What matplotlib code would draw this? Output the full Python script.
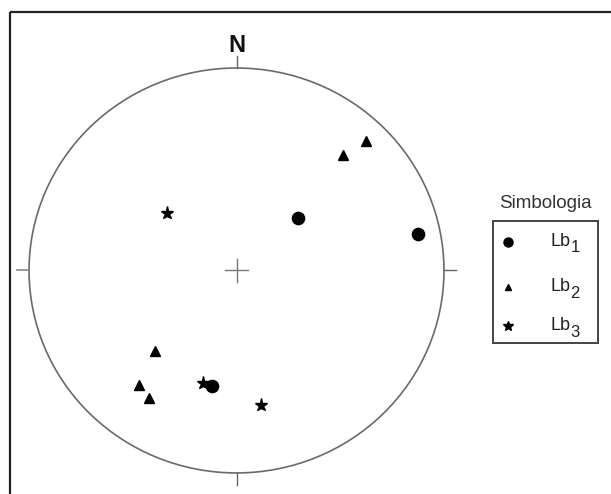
import matplotlib
matplotlib.use("Agg")
import matplotlib.pyplot as plt
from matplotlib.patches import Ellipse
from matplotlib.lines import Line2D
import matplotlib.transforms as mtransforms

plt.rcParams['font.family'] = ['Liberation Sans', 'DejaVu Sans']

# posiciones en la red (unidades del radio, centro = 0,0)
lb1_x = [0.296, 0.875, -0.118]
lb1_y = [0.259, 0.180, -0.570]
lb2_x = [0.624, 0.513, -0.393, -0.470, -0.422]
lb2_y = [0.640, 0.570, -0.398, -0.565, -0.630]
lb3_x = [-0.335, -0.161, 0.118]
lb3_y = [0.284, -0.556, -0.664]

series = [
    ('Lb', '1', lb1_x, lb1_y, 'o', 8.8, 6.5),
    ('Lb', '2', lb2_x, lb2_y, '^', 7.5, 5.0),
    ('Lb', '3', lb3_x, lb3_y, '*', 9.5, 7.0),
]
legend_title = 'Simbologia'

fig = plt.figure(figsize=(6.11, 4.94), dpi=100)
ax = fig.add_axes([0, 0, 1, 1])
ax.set_xlim(-1.140, 1.805)
ax.set_ylim(-1.104, 1.336)
ax.axis('off')

# marco (solo visible arriba e izquierda)
fig.add_artist(Line2D([10 / 611, 10 / 611], [0, 1 - 12 / 494], transform=fig.transFigure,
                      color='#222222', lw=1.6, solid_capstyle='butt'))
fig.add_artist(Line2D([10 / 611, 1], [1 - 12 / 494, 1 - 12 / 494], transform=fig.transFigure,
                      color='#222222', lw=1.6, solid_capstyle='butt'))

# circulo primitivo
ax.add_patch(Ellipse((0, 0), 2, 2, fill=False, edgecolor='#6a6a6a', lw=1.2))

# marcas cardinales
t = 0.058
ax.plot([-1 - t, -1], [0, 0], color='#888888', lw=1.2)
ax.plot([1, 1 + t], [0, 0], color='#666666', lw=1.0)
ax.plot([0, 0], [1, 1 + t], color='#666666', lw=1.0)
ax.plot([0, 0], [-1 - t, -1], color='#666666', lw=1.0)

# cruz central
c = 0.055
ax.plot([-c, c], [0, 0], color='#777777', lw=1.0)
ax.plot([0, 0], [-c, c], color='#777777', lw=1.0)

ax.text(0, 1.113, 'N', ha='center', va='center', fontsize=17, fontweight='bold',
        color='#111111')

for _, _, xs, ys, mk, ms, _ in series:
    ax.plot(xs, ys, linestyle='none', marker=mk, color='black', markersize=ms)

# leyenda
lax = fig.add_axes([493 / 611, 1 - 343 / 494, 105 / 611, 122 / 494])
lax.set_xlim(0, 1)
lax.set_ylim(0, 1)
lax.set_xticks([])
lax.set_yticks([])
for s in lax.spines.values():
    s.set_edgecolor('#444444')
    s.set_linewidth(1.4)
rows = [0.83, 0.46, 0.14]
for (name, sub, _, _, mk, _, lms), yy in zip(series, rows):
    lax.plot([0.14], [yy], marker=mk, color='black', markersize=lms, linestyle='none')
    lax.text(0.55, yy, name, ha='left', va='center', fontsize=13, color='#222222')
    off = mtransforms.offset_copy(lax.transAxes, fig=fig, x=14.2, y=-4.5, units='points')
    lax.text(0.55, yy, sub, ha='left', va='center', fontsize=12, color='#222222',
             transform=off)
fig.text(545 / 611, 1 - 203 / 494, legend_title, ha='center', va='center',
         fontsize=13.5, color='#333333')

fig.savefig('out.png', dpi=100)
